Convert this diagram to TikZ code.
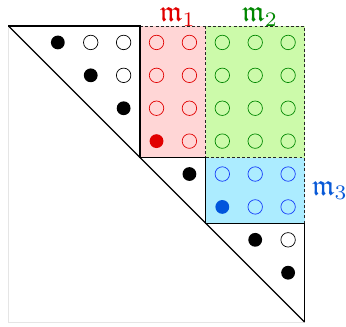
\documentclass[tikz,border=0pt]{standalone}
\usepackage{amssymb}
\usepackage{graphicx}
\definecolor{redfill}{RGB}{255,214,214}
\definecolor{greenfill}{RGB}{204,250,170}
\definecolor{bluefill}{RGB}{172,236,255}
\definecolor{redc}{RGB}{225,0,0}
\definecolor{greenc}{RGB}{0,135,0}
\definecolor{bluec}{RGB}{20,60,250}
\definecolor{bluedot}{RGB}{0,85,220}
\definecolor{bluelab}{RGB}{10,90,215}
\newcommand{\fdot}[3]{\fill[#1] (#3+0.5,-#2-0.5) circle (0.21);}
\newcommand{\opdot}[3]{\draw[#1,line width=0.6pt] (#3+0.5,-#2-0.5) circle (0.22);}
\newcommand{\biglab}[1]{\scalebox{2.55}{$#1$}}
\begin{document}
\begin{tikzpicture}[
  solidline/.style={line width=1.1pt, black},
  dashline/.style={line width=0.8pt, dash pattern=on 2.5pt off 2pt, black!85},
  lab/.style={inner sep=0pt}]
\useasboundingbox (-0.258,0.79) rectangle (10.26,-9.149);
% frame
\draw[black!10, line width=0.9pt] (0,0) -- (0,-9) -- (9,-9);
% fills
\fill[redfill] (4,0) rectangle (6,-4);
\fill[greenfill] (6,0) rectangle (9,-4);
\fill[bluefill] (6,-4) rectangle (9,-6);
% dashed outlines
\draw[dashline] (4,0) -- (9,0) -- (9,-6);
\draw[dashline] (6,0) -- (6,-4);
\draw[dashline] (6,-4) -- (9,-4);
% solid outlines
\draw[solidline] (0,0) -- (4,0) -- (4,-4) -- (6,-4) -- (6,-6) -- (9,-6) -- (9,-9);
\draw[solidline] (0,0) -- (9,-9);
% black dots
\fdot{black}{0}{1} \opdot{black}{0}{2} \opdot{black}{0}{3}
\fdot{black}{1}{2} \opdot{black}{1}{3}
\fdot{black}{2}{3}
\fdot{black}{4}{5}
\fdot{black}{6}{7} \opdot{black}{6}{8}
\fdot{black}{7}{8}
% red dots
\foreach \i in {0,1,2} {\opdot{redc}{\i}{4} \opdot{redc}{\i}{5}}
\fdot{redc}{3}{4} \opdot{redc}{3}{5}
% green dots
\foreach \i in {0,1,2,3} {\foreach \j in {6,7,8} {\opdot{greenc}{\i}{\j}}}
% blue dots
\foreach \j in {6,7,8} {\opdot{bluec}{4}{\j}}
\fdot{bluedot}{5}{6} \opdot{bluec}{5}{7} \opdot{bluec}{5}{8}
% labels
\node[lab, text=redc, anchor=base] (m1) at (5.15,0.13) {\biglab{\mathfrak{m}_1}};
\node[lab, text=greenc, anchor=base] (m2) at (7.65,0.13) {\biglab{\mathfrak{m}_2}};
\node[lab, text=bluelab, anchor=west] (m3) at (9.22,-5) {\biglab{\mathfrak{m}_3}};
\end{tikzpicture}
\end{document}
